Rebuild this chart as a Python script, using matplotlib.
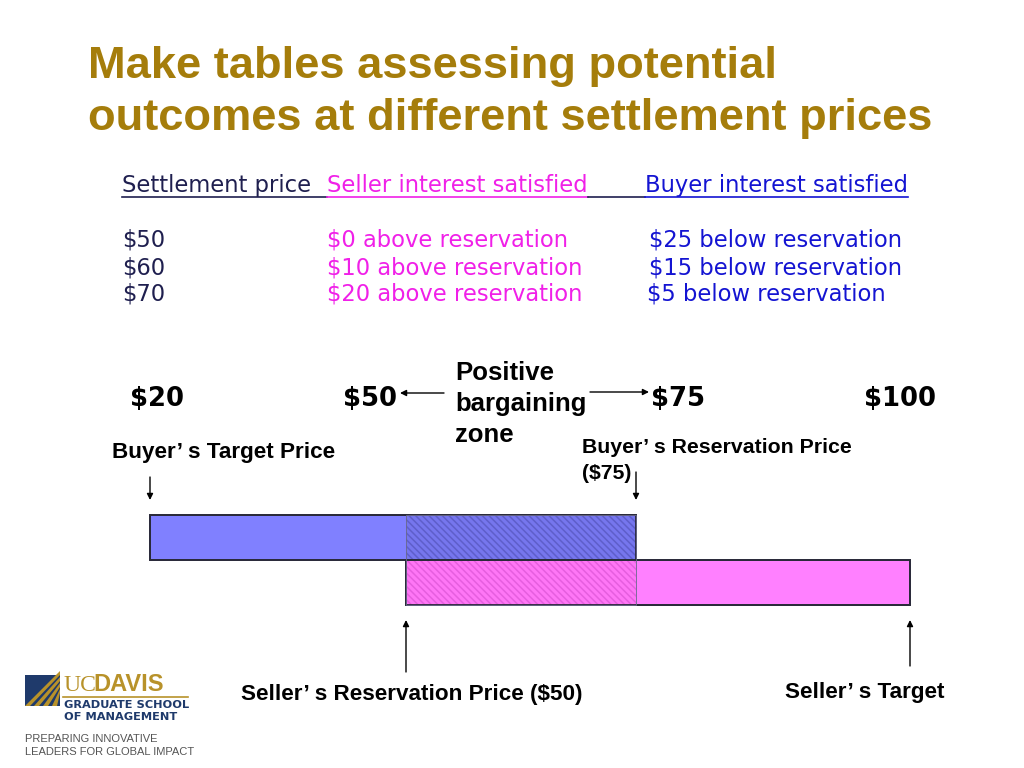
import numpy as np
import matplotlib
matplotlib.use("Agg")
import matplotlib.pyplot as plt
from matplotlib.patches import Polygon, Rectangle

# ---------------- data ----------------
title_lines = ["Make tables assessing potential", "outcomes at different settlement prices"]
table_header = ["Settlement price", "Seller interest satisfied", "Buyer interest satisfied"]
settlement_prices = ["$50", "$60", "$70"]
seller_outcomes = ["$0 above reservation", "$10 above reservation", "$20 above reservation"]
buyer_outcomes = ["$25 below reservation", "$15 below reservation", "$5 below reservation"]

scale_prices = [20, 50, 75, 100]
scale_labels = ["$20", "$50", "$75", "$100"]
buyer_range = (20, 75)    # buyer target -> buyer reservation
seller_range = (50, 100)  # seller reservation -> seller target
zone_range = (50, 75)     # positive bargaining zone

# ---------------- layout helpers ----------------
W, H = 1024, 768
fig = plt.figure(figsize=(W / 100, H / 100), dpi=100)
bg = fig.add_axes([0, 0, 1, 1])
bg.set_xlim(0, W)
bg.set_ylim(H, 0)
bg.axis("off")

TITLE_C = "#A57D0B"
DARK = "#1F1F4F"
MAG = "#F020E8"
BLUE = "#1414D2"
ARIAL = ["Liberation Sans", "DejaVu Sans"]
VERD = ["DejaVu Sans"]

# Title
for i, line in enumerate(title_lines):
    bg.text(88, 78 + i * 52, line, fontsize=32.6, fontweight="bold", color=TITLE_C,
            family=ARIAL, va="baseline", ha="left")

# Table
TS = 16.3
col_x = [122, 327, 645]
hdr_colors = [DARK, MAG, BLUE]
for x, t, c in zip(col_x, table_header, hdr_colors):
    bg.text(x, 192, t, fontsize=TS, color=c, family=VERD, va="baseline", ha="left")
# underline segments
bg.plot([122, 327], [197, 197], color=DARK, lw=1.2)
bg.plot([327, 588], [197, 197], color=MAG, lw=1.2)
bg.plot([588, 645], [197, 197], color=DARK, lw=1.2)
bg.plot([645, 908], [197, 197], color=BLUE, lw=1.2)

row_y = [247, 274, 301]
buyer_x = [649, 649, 647]
for y, p, s, b, bx_ in zip(row_y, settlement_prices, seller_outcomes, buyer_outcomes, buyer_x):
    bg.text(122, y, p, fontsize=TS, color=DARK, family=VERD, va="baseline")
    bg.text(327, y, s, fontsize=TS, color=MAG, family=VERD, va="baseline")
    bg.text(bx_, y, b, fontsize=TS, color=BLUE, family=VERD, va="baseline")

# price scale labels
label_x = [130, 343, 651, 864]
for x, t in zip(label_x, scale_labels):
    bg.text(x, 406, t, fontsize=18.6, fontweight="bold", family=VERD, va="baseline", color="black")

# positive bargaining zone text
for i, t in enumerate(["Positive", "bargaining", "zone"]):
    bg.text(455, 380 + i * 31, t, fontsize=18.5, fontweight="bold", family=ARIAL,
            va="baseline", color="black")
arrow_kw = dict(arrowstyle="-|>", color="black", lw=1.0, mutation_scale=9, shrinkA=0, shrinkB=0)
bg.annotate("", xy=(400, 393), xytext=(444, 393), arrowprops=arrow_kw)
bg.annotate("", xy=(649, 392), xytext=(590, 392), arrowprops=arrow_kw)

# annotations
lab_kw = dict(fontsize=16.2, fontweight="bold", family=ARIAL, va="baseline", color="black")
bg.text(112, 458, "Buyer\u2019 s Target Price", **lab_kw)
lab_kw2 = dict(lab_kw, fontsize=15.3)
bg.text(582, 453, "Buyer\u2019 s Reservation Price", **lab_kw2)
bg.text(582, 479, "($75)", **lab_kw2)
bg.text(241, 700, "Seller\u2019 s Reservation Price ($50)", **lab_kw)
bg.text(785, 698, "Seller\u2019 s Target", **lab_kw)

arrow_kw2 = dict(arrowstyle="-|>", color="black", lw=1.0, mutation_scale=9, shrinkA=0, shrinkB=0)
bg.annotate("", xy=(150, 500), xytext=(150, 477), arrowprops=arrow_kw2)
bg.annotate("", xy=(636, 500), xytext=(636, 472), arrowprops=arrow_kw2)
bg.annotate("", xy=(406, 620), xytext=(406, 672), arrowprops=arrow_kw2)
bg.annotate("", xy=(910, 620), xytext=(910, 666), arrowprops=arrow_kw2)

# ---------------- bars (price axis, not drawn to linear scale) ----------------
bar_left_px, bar_right_px = 150, 910
bar_top_px, bar_bot_px = 515, 605
anchor_px = np.array([150, 406, 636, 910], dtype=float)
anchor_frac = (anchor_px - bar_left_px) / (bar_right_px - bar_left_px)
anchor_price = np.array(scale_prices, dtype=float)

def fwd(p):
    return np.interp(p, anchor_price, anchor_frac)

def inv(f):
    return np.interp(f, anchor_frac, anchor_price)

bx = fig.add_axes([bar_left_px / W, 1 - bar_bot_px / H,
                   (bar_right_px - bar_left_px) / W, (bar_bot_px - bar_top_px) / H])
bx.set_xscale("function", functions=(fwd, inv))
bx.set_xlim(scale_prices[0], scale_prices[-1])
bx.set_ylim(0, 2)
bx.axis("off")

plt.rcParams["hatch.linewidth"] = 1.1
edge = "#2a2a3a"
bx.barh(1.5, buyer_range[1] - buyer_range[0], left=buyer_range[0], height=1,
        color="#8080FF", edgecolor=edge, lw=1.3, clip_on=False, zorder=2)
bx.barh(0.5, seller_range[1] - seller_range[0], left=seller_range[0], height=1,
        color="#FF80FF", edgecolor=edge, lw=1.3, clip_on=False, zorder=2)
# hatched overlap (positive bargaining zone)
bx.barh(1.5, zone_range[1] - zone_range[0], left=zone_range[0], height=1,
        facecolor="#7676EE", edgecolor="#5E5ECA", hatch="\\\\\\\\\\", lw=0, clip_on=False, zorder=3)
bx.barh(0.5, zone_range[1] - zone_range[0], left=zone_range[0], height=1,
        facecolor="#FF76F6", edgecolor="#E65EDF", hatch="\\\\\\\\\\", lw=0, clip_on=False, zorder=3)
# outlines on top
bx.barh(1.5, buyer_range[1] - buyer_range[0], left=buyer_range[0], height=1,
        facecolor="none", edgecolor=edge, lw=1.3, clip_on=False, zorder=4)
bx.barh(0.5, seller_range[1] - seller_range[0], left=seller_range[0], height=1,
        facecolor="none", edgecolor=edge, lw=1.3, clip_on=False, zorder=4)
bx.barh(1.0, zone_range[1] - zone_range[0], left=zone_range[0], height=2,
        facecolor="none", edgecolor="#6a6a8a", lw=0.6, clip_on=False, zorder=4)

# ---------------- logo ----------------
NAVY = "#1F3A6B"
GOLD = "#B8922A"
bg.add_patch(Rectangle((25, 675), 35, 31, facecolor=NAVY, edgecolor="none"))
for k in range(4):
    x0 = 25 + k * 9
    bg.add_patch(Polygon([(x0, 706), (x0 + 5, 706), (60, 675 + k * 6), (60, 675 + k * 6 - 4)],
                         closed=True, facecolor=GOLD, edgecolor="none"))
bg.text(63, 691, "UC", fontsize=17, color=GOLD, family=["Liberation Serif"], va="baseline")
bg.text(93, 691, "DAVIS", fontsize=17, color=GOLD, fontweight="bold", family=ARIAL, va="baseline")
bg.plot([63, 188], [697, 697], color=GOLD, lw=1.2)
bg.text(64, 708, "GRADUATE SCHOOL", fontsize=8.2, color=NAVY, fontweight="bold", family=VERD, va="baseline")
bg.text(64, 720, "OF MANAGEMENT", fontsize=8.2, color=NAVY, fontweight="bold", family=VERD, va="baseline")
bg.text(25, 742, "PREPARING INNOVATIVE", fontsize=8.0, color="#555555", family=ARIAL, va="baseline")
bg.text(25, 755, "LEADERS FOR GLOBAL IMPACT", fontsize=8.0, color="#555555", family=ARIAL, va="baseline")

fig.savefig("out.png", dpi=100, facecolor="white")
